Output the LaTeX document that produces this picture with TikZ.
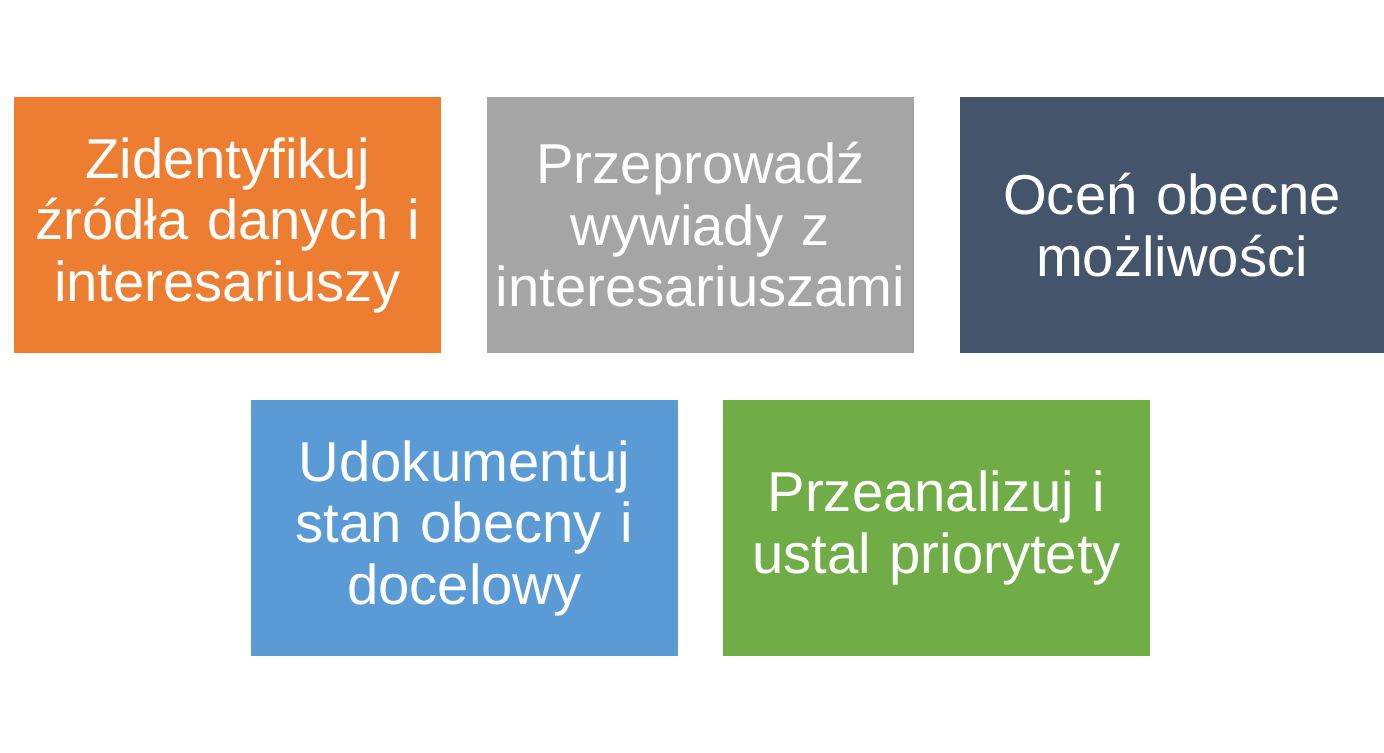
\documentclass[tikz,border=0pt]{standalone}
\usepackage{fontspec}
\setmainfont{Liberation Sans}
\definecolor{boxorange}{HTML}{ED7D31}
\definecolor{boxgray}{HTML}{A5A5A5}
\definecolor{boxnavy}{HTML}{44546A}
\definecolor{boxblue}{HTML}{5B9BD5}
\definecolor{boxgreen}{HTML}{70AD47}
\tikzset{
    stepbox/.style={rectangle, inner sep=0pt, minimum width=8.54cm, minimum height=5.12cm,
        text width=8.5cm, align=center, text=white,
        font=\fontsize{32}{35}\selectfont},
}

\begin{document}
\begin{tikzpicture}[x=0.02cm,y=-0.02cm]
            \useasboundingbox[fill=white] (0,0) rectangle (1384,752);
            \node[stepbox,fill=boxorange] (identify) at (227.5,225) {Zidentyfikuj\\ źródła danych i\\ interesariuszy};
            \node[stepbox,fill=boxgray] (interview) at (700.5,225) {Przeprowadź\\ wywiady z\\ interesariuszami};
            \node[stepbox,fill=boxnavy,minimum width=8.48cm] (assess) at (1172,225) {Oceń obecne\\ możliwości};
            \node[stepbox,fill=boxblue] (document) at (464.5,528) {Udokumentuj\\ stan obecny i\\ docelowy};
            \node[stepbox,fill=boxgreen] (analyse) at (936.5,528) {Przeanalizuj i\\ ustal priorytety};
        \end{tikzpicture}
\end{document}
